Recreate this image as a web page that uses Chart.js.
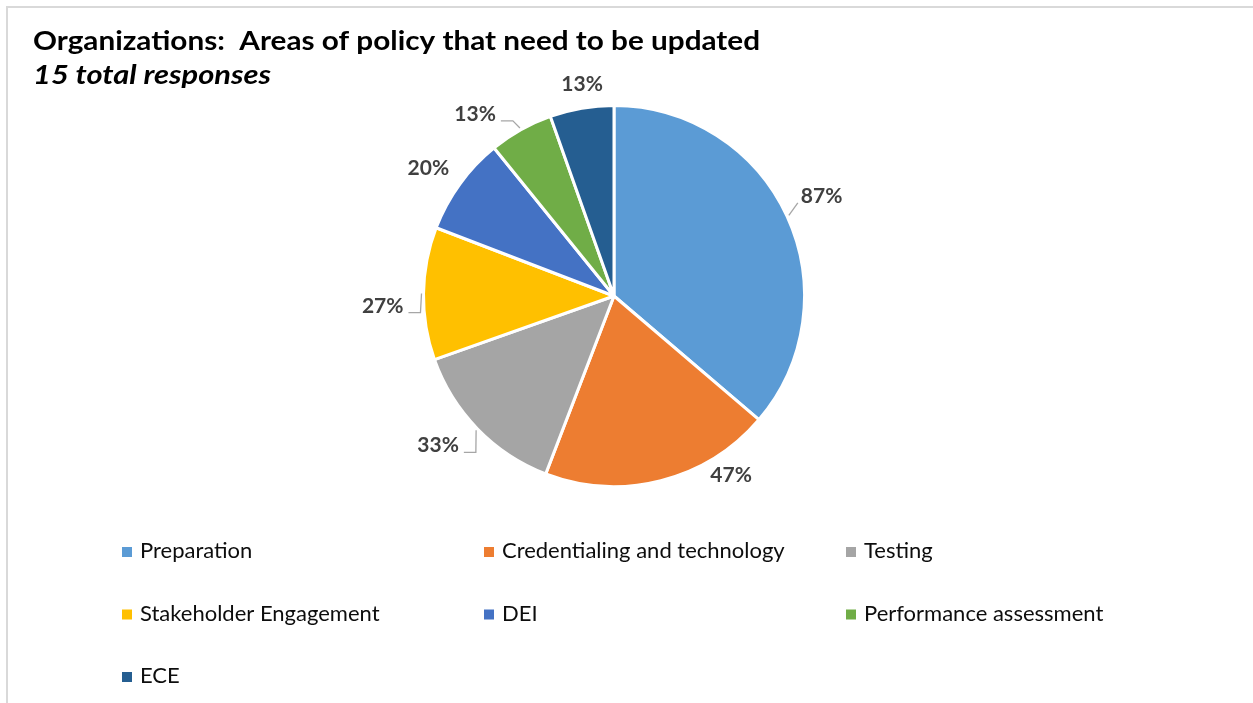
<!DOCTYPE html>
<html>
<head>
<meta charset="utf-8">
<script src="https://cdn.jsdelivr.net/npm/chart.js@4/dist/chart.umd.min.js"></script>
<style>
  html, body { margin: 0; padding: 0; background: #fff; }
  #policyChart { display: block; }
</style>
</head>
<body>
<canvas id="policyChart" width="1253" height="703"></canvas>
<script>
// share of organizations naming each policy area (percent of 15 responses)
const areas = ["Preparation", "Credentialing and technology", "Testing", "Stakeholder Engagement", "DEI", "Performance assessment", "ECE"];
const percents = [87, 47, 33, 27, 20, 13, 13];
const colors = ["#5B9BD5", "#ED7D31", "#A5A5A5", "#FFC000", "#4472C4", "#70AD47", "#255E91"];

const titleText = "Organizations:  Areas of policy that need to be updated";
const subtitleText = "15 total responses";

// label placement around the pie: angle shift (deg), gap past the rim, leader style
const labelShift = [-1, -19, 4, -3, -1.4, -8, 1.2];
const labelGap = [40, 23, 40, 41, 35, 39, 24];
const labelLeader = ["straight", "none", "elbow", "elbow", "none", "elbow", "none"];

const LABEL_FONT = "bold 21px Lato";
const toRad = d => d * Math.PI / 180;

// draw text stretched to a given width (title lines)
function fitText(ctx, text, x, y, width) {
  const w = ctx.measureText(text).width;
  ctx.save();
  ctx.translate(x, y);
  ctx.scale(width / w, 1);
  ctx.fillText(text, 0, 0);
  ctx.restore();
}

const frameAndTitle = {
  id: "frameAndTitle",
  beforeDraw(chart) {
    const ctx = chart.ctx;
    ctx.save();
    ctx.strokeStyle = "#d9d9d9";
    ctx.lineWidth = 2;
    ctx.beginPath();
    ctx.moveTo(7, chart.height + 5);
    ctx.lineTo(7, 7);
    ctx.lineTo(chart.width + 5, 7);
    ctx.stroke();

    ctx.fillStyle = "#000";
    ctx.textBaseline = "alphabetic";
    ctx.textAlign = "left";
    ctx.font = "bold 26.5px Lato";
    fitText(ctx, titleText, 33, 50, 727);
    ctx.font = "italic bold 26.5px Lato";
    fitText(ctx, subtitleText, 33, 84, 238);
    ctx.restore();
  }
};

const sliceLabels = {
  id: "sliceLabels",
  afterDatasetsDraw(chart) {
    const ctx = chart.ctx;
    const meta = chart.getDatasetMeta(0);
    ctx.save();
    ctx.font = LABEL_FONT;
    meta.data.forEach((arc, i) => {
      const p = arc.getProps(["x", "y", "startAngle", "endAngle", "outerRadius"], true);
      const mid = (p.startAngle + p.endAngle) / 2;
      const a = mid + toRad(labelShift[i]);
      const r = p.outerRadius + labelGap[i];
      const cx = p.x + Math.cos(a) * r;
      const cy = p.y + Math.sin(a) * r;
      const text = chart.data.datasets[0].data[i] + "%";
      const w = ctx.measureText(text).width;

      // leader line from the rim to the label
      const rimX = p.x + Math.cos(mid) * (p.outerRadius + 2);
      const rimY = p.y + Math.sin(mid) * (p.outerRadius + 2);
      ctx.strokeStyle = "#a6a6a6";
      ctx.lineWidth = 1.3;
      if (labelLeader[i] === "elbow") {
        const x0 = cx + w / 2 + 5;
        const yb = cy + 7.5;
        ctx.beginPath();
        ctx.moveTo(x0, yb);
        ctx.lineTo(x0 + 12, yb);
        ctx.lineTo(rimX, rimY);
        ctx.stroke();
      } else if (labelLeader[i] === "straight") {
        ctx.beginPath();
        ctx.moveTo(rimX, rimY);
        ctx.lineTo(cx - w / 2 - 3, cy + 7);
        ctx.stroke();
      }

      ctx.fillStyle = "#404040";
      ctx.textAlign = "center";
      ctx.textBaseline = "alphabetic";
      ctx.fillText(text, cx, cy + 7.5);
    });
    ctx.restore();
  }
};

const gridLegend = {
  id: "gridLegend",
  afterDraw(chart) {
    const ctx = chart.ctx;
    const bg = chart.data.datasets[0].backgroundColor;
    ctx.save();
    ctx.font = "22px Lato";
    ctx.textBaseline = "alphabetic";
    ctx.textAlign = "left";
    chart.data.labels.forEach((name, i) => {
      const col = i % 3;
      const row = Math.floor(i / 3);
      const x = 122 + col * 362;
      const base = 558 + row * 62.5;
      ctx.fillStyle = bg[i];
      ctx.fillRect(x, base - 11, 10, 10);
      ctx.fillStyle = "#0d0d0d";
      ctx.fillText(name, x + 18, base);
    });
    ctx.restore();
  }
};

new Chart(document.getElementById("policyChart"), {
  type: "pie",
  data: {
    labels: areas,
    datasets: [{
      data: percents,
      backgroundColor: colors,
      borderColor: "#ffffff",
      borderWidth: 3
    }]
  },
  options: {
    responsive: false,
    animation: false,
    layout: { padding: { left: 422, right: 447, top: 104, bottom: 215 } },
    plugins: {
      legend: { display: false },
      tooltip: { enabled: false }
    }
  },
  plugins: [frameAndTitle, sliceLabels, gridLegend]
});
</script>
</body>
</html>
